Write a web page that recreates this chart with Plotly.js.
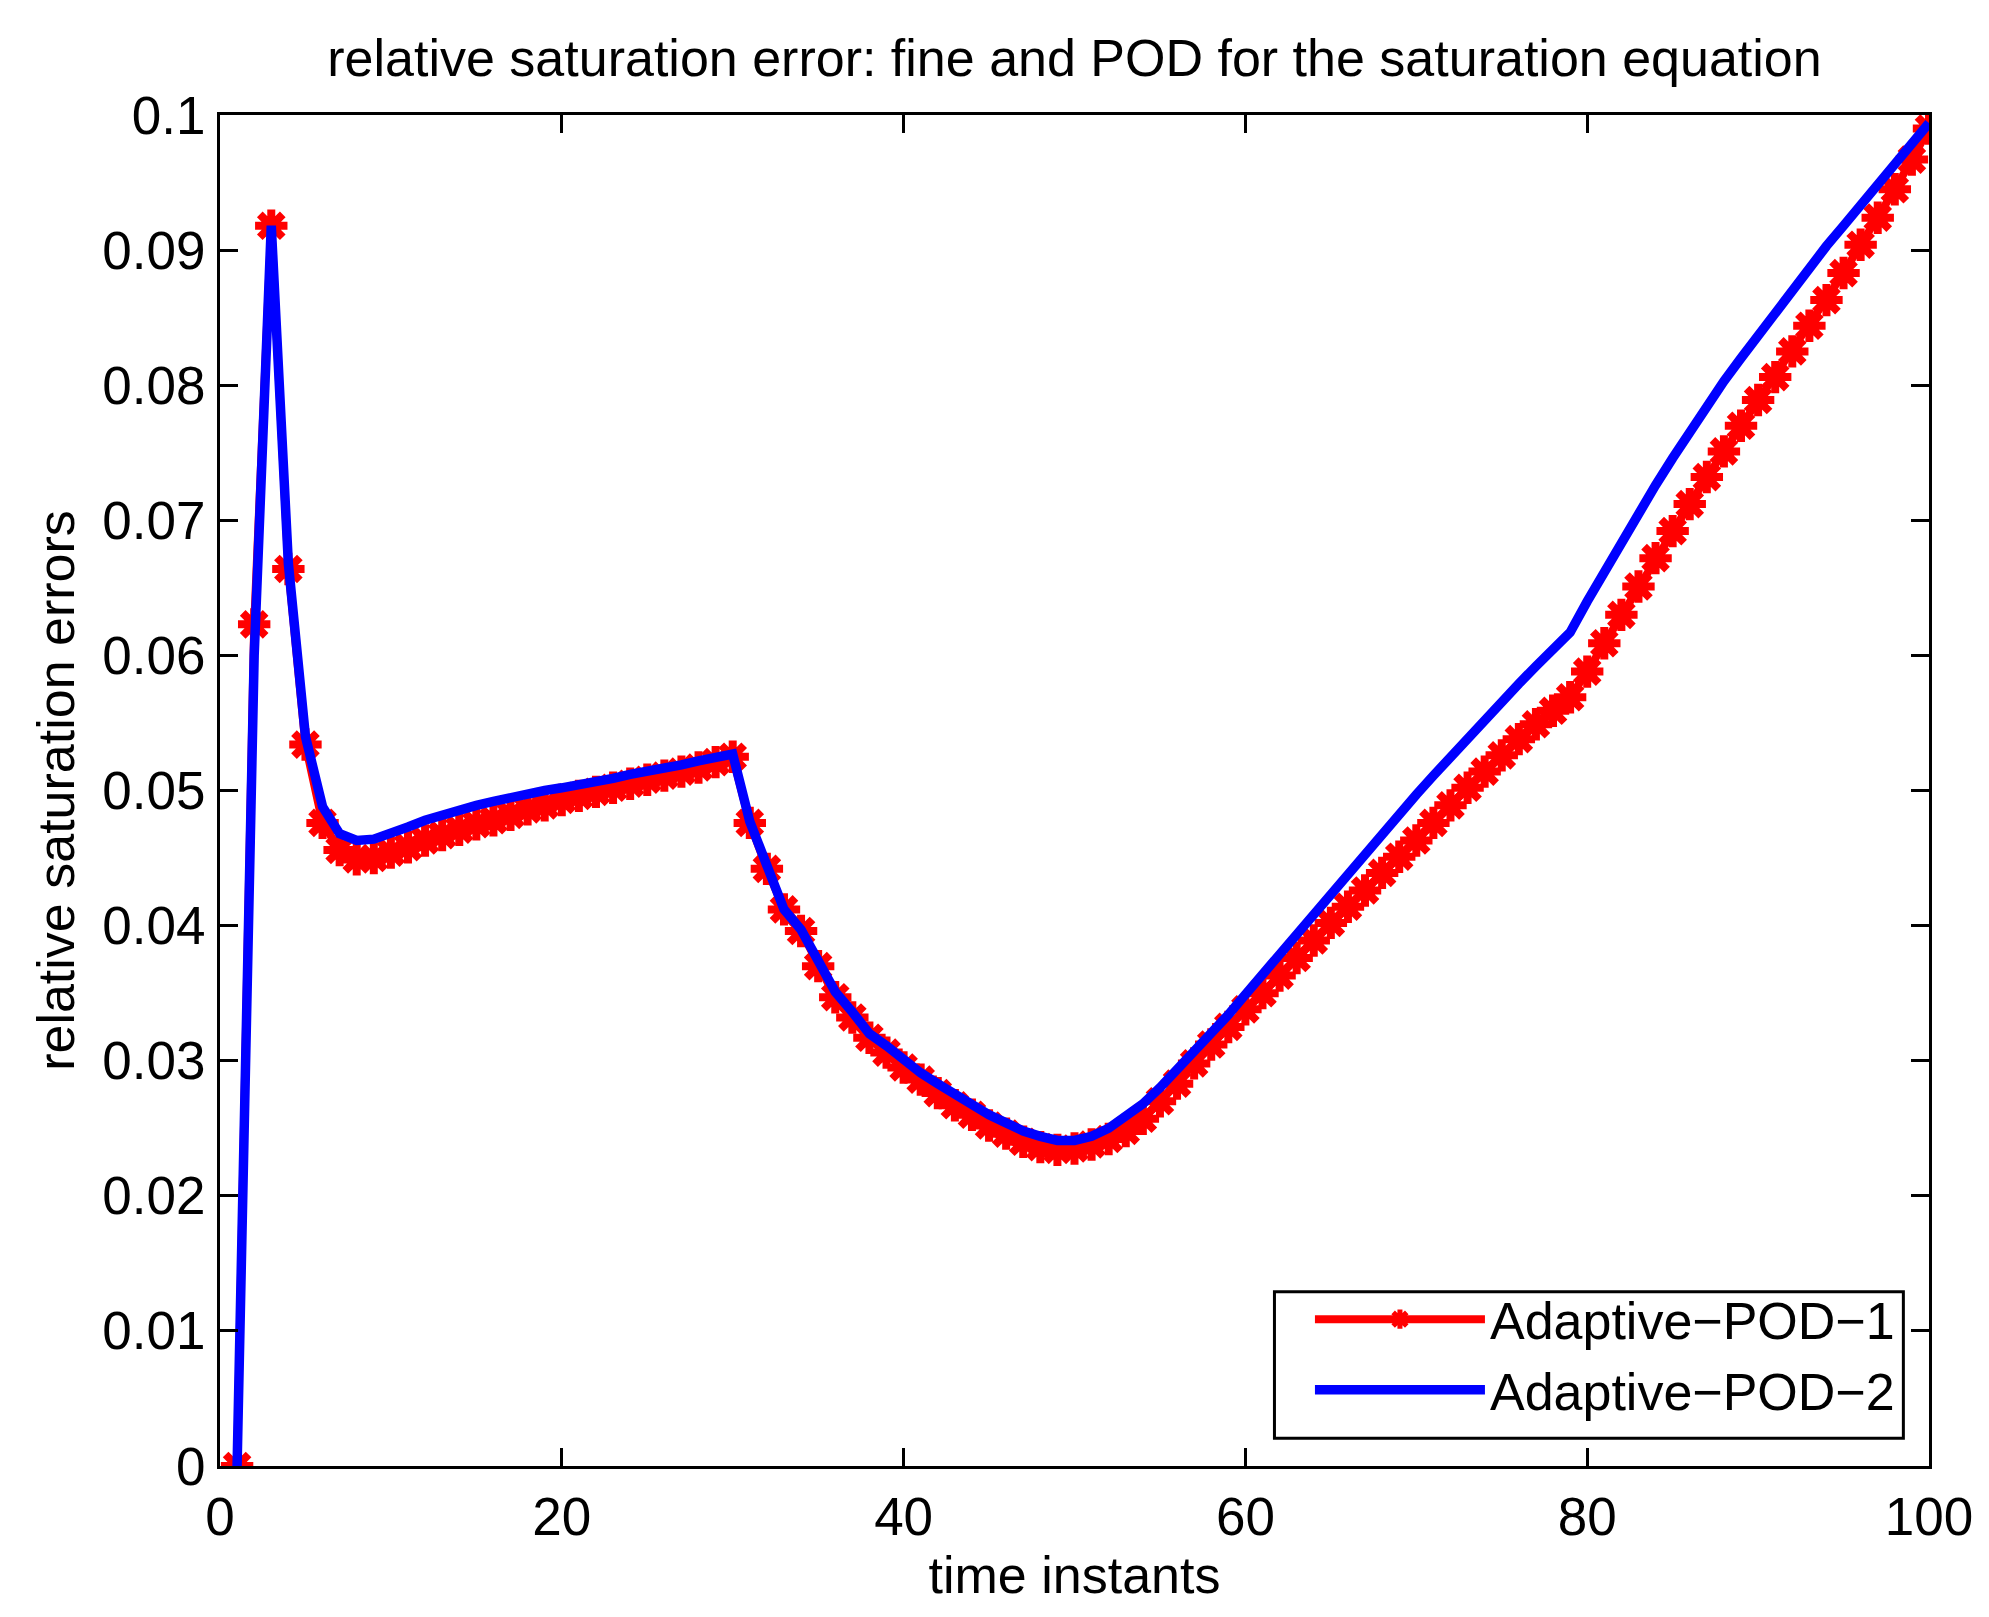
<!DOCTYPE html>
<html>
<head>
<meta charset="utf-8">
<script src="https://cdn.plot.ly/plotly-3.0.1.min.js"></script>
<style>
html, body { margin: 0; padding: 0; background: #ffffff; }
#chart { width: 1989px; height: 1617px; }
</style>
</head>
<body>
<div id="chart"></div>
<script>
// ---- data ----
const timeInstants = [1,2,3,4,5,6,7,8,9,10,11,12,13,14,15,16,17,18,19,20,
  21,22,23,24,25,26,27,28,29,30,31,32,33,34,35,36,37,38,39,40,
  41,42,43,44,45,46,47,48,49,50,51,52,53,54,55,56,57,58,59,60,
  61,62,63,64,65,66,67,68,69,70,71,72,73,74,75,76,77,78,79,80,
  81,82,83,84,85,86,87,88,89,90,91,92,93,94,95,96,97,98,99,100];

const adaptivePod1 = [
  0, 0.0623, 0.0918, 0.0664, 0.0534, 0.0476, 0.0456, 0.0449, 0.0450, 0.0454,
  0.0458, 0.0463, 0.0467, 0.0471, 0.0475, 0.0478, 0.0482, 0.0486, 0.0489, 0.0493,
  0.0496, 0.0499, 0.0502, 0.0505, 0.0508, 0.0511, 0.0514, 0.0517, 0.0521, 0.0525,
  0.0476, 0.0442, 0.0412, 0.0396, 0.0370, 0.0347, 0.0332, 0.0317, 0.0306, 0.0295,
  0.0286, 0.0276, 0.0267, 0.0260, 0.0252, 0.0246, 0.0240, 0.0236, 0.0234, 0.0235,
  0.0238, 0.0242, 0.0248, 0.0257, 0.0270, 0.0283, 0.0298, 0.0312, 0.0325, 0.0338,
  0.0350, 0.0363, 0.0376, 0.0389, 0.0402, 0.0414, 0.0426, 0.0439, 0.0451, 0.0463,
  0.0476, 0.0489, 0.0502, 0.0514, 0.0526, 0.0538, 0.0549, 0.0559, 0.0569, 0.0588,
  0.0609, 0.0630, 0.0651, 0.0672, 0.0692, 0.0712, 0.0732, 0.0751, 0.0770, 0.0789,
  0.0806, 0.0825, 0.0844, 0.0863, 0.0883, 0.0904, 0.0924, 0.0945, 0.0967, 0.0990];

const adaptivePod2 = [
  0, 0.0600, 0.0918, 0.0668, 0.0540, 0.0488, 0.0468, 0.0463, 0.0464, 0.0468,
  0.0473, 0.0478, 0.0482, 0.0486, 0.0489, 0.0492, 0.0495, 0.0497, 0.0500, 0.0502,
  0.0504, 0.0507, 0.0509, 0.0512, 0.0514, 0.0517, 0.0519, 0.0522, 0.0524, 0.0527,
  0.0477, 0.0445, 0.0412, 0.0397, 0.0373, 0.0351, 0.0336, 0.0320, 0.0311, 0.0300,
  0.0291, 0.0283, 0.0275, 0.0267, 0.0260, 0.0254, 0.0248, 0.0244, 0.0241, 0.0241,
  0.0244, 0.0250, 0.0258, 0.0268, 0.0280, 0.0293, 0.0306, 0.0320, 0.0334, 0.0349,
  0.0364, 0.0379, 0.0394, 0.0408, 0.0423, 0.0438, 0.0453, 0.0468, 0.0483, 0.0497,
  0.0511, 0.0525, 0.0539, 0.0553, 0.0566, 0.0579, 0.0592, 0.0605, 0.0617, 0.0640,
  0.0662, 0.0684, 0.0705, 0.0726, 0.0746, 0.0766, 0.0785, 0.0803, 0.0820, 0.0837,
  0.0853, 0.0870, 0.0887, 0.0903, 0.0918, 0.0933, 0.0949, 0.0964, 0.0979, 0.0994];

const seriesNames = ['Adaptive\u2212POD\u22121', 'Adaptive\u2212POD\u22122'];
const xTickVals = [0, 20, 40, 60, 80, 100];
const xTickText = ['0', '20', '40', '60', '80', '100'];
const yTickVals = [0, 0.01, 0.02, 0.03, 0.04, 0.05, 0.06, 0.07, 0.08, 0.09, 0.1];
const yTickText = ['0', '0.01', '0.02', '0.03', '0.04', '0.05', '0.06', '0.07', '0.08', '0.09', '0.1'];

const chartTitle = 'relative saturation error: fine and POD for the saturation equation';
const xTitle = 'time instants';
const yTitle = 'relative saturation errors';

// ---- styling ----
const FONT = 'Liberation Sans, Arial, Helvetica, sans-serif';

const traces = [
  {
    x: timeInstants, y: adaptivePod1, name: seriesNames[0],
    type: 'scatter', mode: 'lines+markers',
    line: { color: 'rgb(255,0,0)', width: 8 },
    marker: { symbol: 'asterisk', size: 27, color: 'rgb(255,0,0)',
              line: { color: 'rgb(255,0,0)', width: 8 } }
  },
  {
    x: timeInstants, y: adaptivePod2, name: seriesNames[1],
    type: 'scatter', mode: 'lines',
    line: { color: 'rgb(0,0,255)', width: 9.5 }
  }
];

const axisCommon = {
  showline: true, linecolor: '#000', linewidth: 3, mirror: 'allticks',
  ticks: 'inside', ticklen: 18, tickwidth: 3, tickcolor: '#000',
  showgrid: false, zeroline: false, automargin: false,
  tickfont: { family: FONT, size: 53, color: '#000' }
};

const layout = {
  width: 1989, height: 1617,
  paper_bgcolor: '#fff', plot_bgcolor: '#fff',
  margin: { l: 220, r: 60, t: 115, b: 151, pad: 0 },
  showlegend: true,
  title: {
    text: chartTitle,
    font: { family: FONT, size: 52, color: '#000' },
    x: 0.5, xref: 'paper', xanchor: 'center',
    y: 1 - 58 / 1617, yref: 'container', yanchor: 'middle'
  },
  xaxis: Object.assign({}, axisCommon, {
    range: [0, 100], tickmode: 'array', tickvals: xTickVals, ticktext: xTickText,
    ticklabelstandoff: 2,
    title: { text: xTitle, font: { family: FONT, size: 52, color: '#000' }, standoff: 6 }
  }),
  yaxis: Object.assign({}, axisCommon, {
    range: [0, 0.1], tickmode: 'array', tickvals: yTickVals, ticktext: yTickText,
    ticklabelstandoff: 1,
    title: { text: yTitle, font: { family: FONT, size: 52, color: '#000' }, standoff: 12 }
  }),
  shapes: [
    { type: 'rect', xref: 'paper', yref: 'paper',
      x0: 0.617, x1: 0.985, y0: 0.0205, y1: 0.129,
      fillcolor: '#fff', line: { color: '#000', width: 3 }, layer: 'above' }
  ],
  legend: {
    x: 0.983, xanchor: 'right', y: 0.026, yanchor: 'bottom',
    bgcolor: 'rgba(0,0,0,0)', borderwidth: 0,
    font: { family: FONT, size: 52, color: '#000' },
    itemwidth: 170, tracegroupgap: 0
  }
};

Plotly.newPlot('chart', traces, layout, { displayModeBar: false, staticPlot: true });
</script>
</body>
</html>
